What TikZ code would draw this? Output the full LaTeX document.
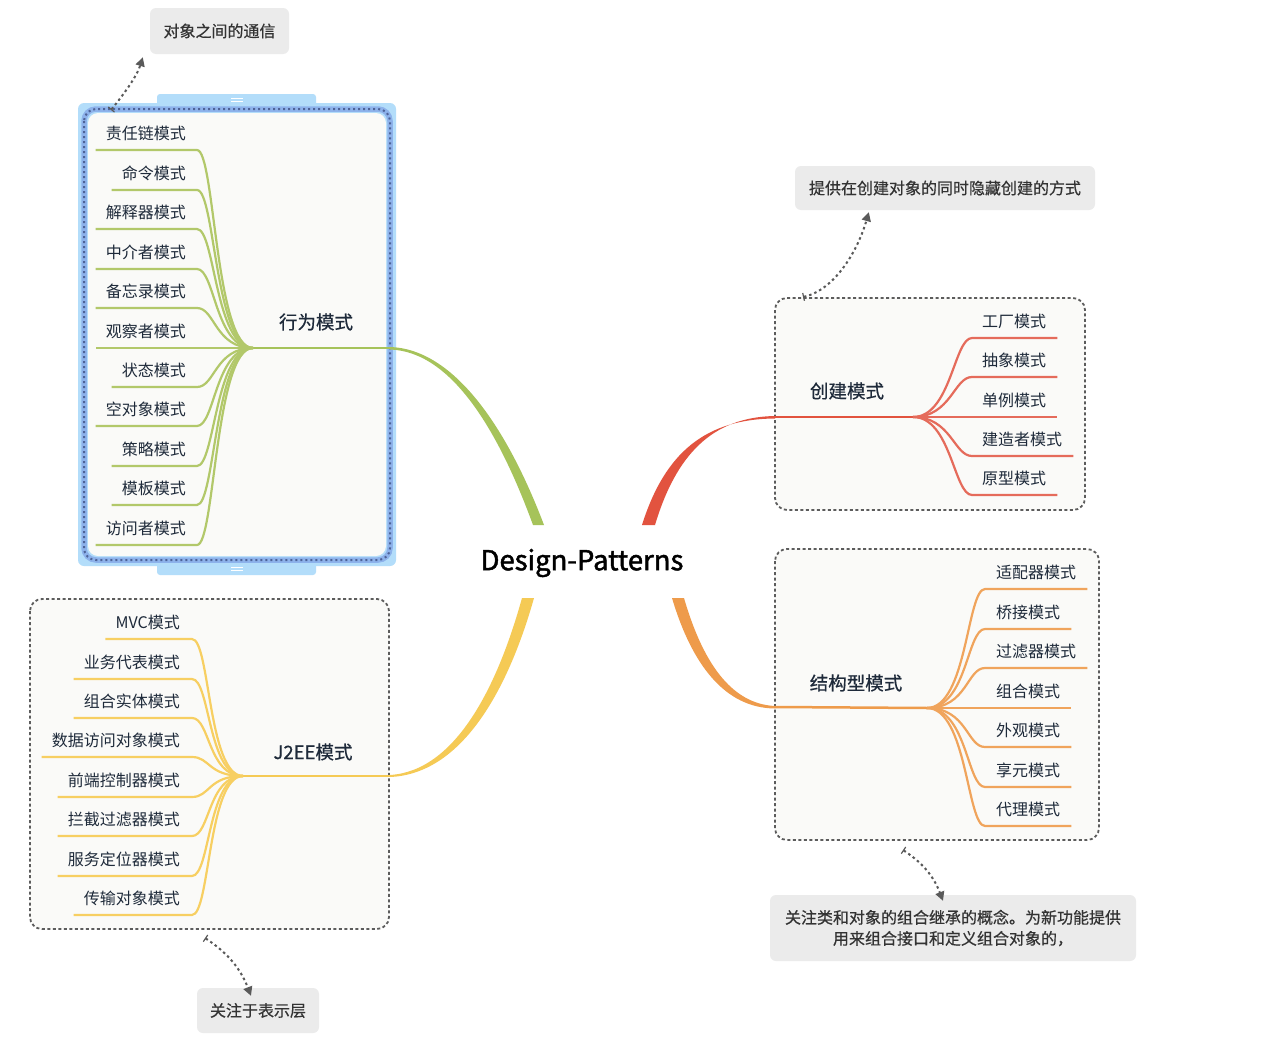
\documentclass[tikz,border=0pt]{standalone}
\usepackage{fontspec}
\setmainfont{Noto Sans CJK SC}
\newfontfamily\midfont{Noto Sans CJK SC}[FakeBold=0.6]
\newfontfamily\titlefont{Noto Sans CJK SC}[FakeBold=1.6]
\usepackage{xcolor}
\usetikzlibrary{arrows.meta,positioning}

\definecolor{ink}{HTML}{1E2A3A}
\definecolor{notebg}{HTML}{EBEBEB}
\definecolor{notetx}{HTML}{333333}
\definecolor{boxbg}{HTML}{FAFAF8}
\definecolor{boxline}{HTML}{5C5C5C}
\definecolor{relc}{HTML}{5A5A5A}
\definecolor{selA}{HTML}{B3DDFA}
\definecolor{selB}{HTML}{8DB2EB}
\definecolor{selC}{HTML}{4E6398}
\definecolor{gtrunk}{HTML}{A6C35A}
\definecolor{gleaf}{HTML}{B2C86A}
\definecolor{rtrunk}{HTML}{E2533F}
\definecolor{rleafc}{HTML}{E56B5B}
\definecolor{otrunk}{HTML}{EE9B4B}
\definecolor{oleaf}{HTML}{F0A45C}
\definecolor{ytrunk}{HTML}{F5CA55}
\definecolor{yleaf}{HTML}{F7CF62}

\begin{document}
\begin{tikzpicture}[x=1pt, y=-1pt,
  lleaf/.style={anchor=south east, inner xsep=0pt, inner ysep=10pt, text depth=0pt,
                font=\fontsize{16}{18}\selectfont, text=ink},
  rleaf/.style={lleaf, anchor=south west},
  branch/.style={font=\midfont\fontsize{18.5}{22}\selectfont, text=ink},
  note/.style={fill=notebg, rounded corners=6pt, text=notetx, inner sep=0pt,
               font=\midfont\fontsize{16}{21}\selectfont, align=center},
  group/.style={draw=boxline, fill=boxbg, line width=1.8pt,
                dash pattern=on 3pt off 2.5pt, rounded corners=12pt},
  rel/.style={draw=relc, line width=2pt, dash pattern=on 2.5pt off 3pt,
              {Bar[width=8pt,line width=1.2pt]}-{Triangle[length=9pt,width=9pt]}},
  gline/.style={draw=gleaf, line width=2.2pt},
  rline/.style={draw=rleafc, line width=2.2pt},
  oline/.style={draw=oleaf, line width=2.2pt},
  yline/.style={draw=yleaf, line width=2.2pt}
]
\useasboundingbox (0,0) rectangle (1270,1052);
\fill[white] (0,0) rectangle (1270,1052);

% selected group: behaviour
\fill[selA, rounded corners=3pt] (157,94) rectangle (316,110);
\fill[selA, rounded corners=3pt] (157,560) rectangle (316,575);
\draw[white, line width=1pt] (231,98) -- (243,98) (231,101) -- (243,101);
\draw[white, line width=1pt] (231,567) -- (243,567) (231,570) -- (243,570);
\fill[selA, rounded corners=6pt] (78,103) rectangle (396,566);
\draw[selB, line width=5.5pt, rounded corners=12pt] (84,109) rectangle (390,560);
\draw[selC, line width=2pt, dash pattern=on 2pt off 3pt, rounded corners=12pt] (84,109) rectangle (390,560);
\fill[boxbg, rounded corners=10pt] (88,113) rectangle (386,556);

% other groups
\path[group] (775,298) rectangle (1085,510);
\path[group] (775,549) rectangle (1099,840);
\path[group] (30,599) rectangle (389,929);

% trunks
\fill[gtrunk] (390,347) .. controls (455,349) and (508,430) .. (544,525)
  -- (533,525) .. controls (499,432) and (452,351.5) .. (390,349.5) -- cycle;
\fill[rtrunk] (775,416) .. controls (712,417) and (676,455) .. (655,525)
  -- (642,525) .. controls (665,452) and (706,419) .. (775,418.5) -- cycle;
\fill[ytrunk] (522,598) -- (534,598) .. controls (508,690) and (462,774) .. (390,777)
  -- (390,775) .. controls (455,771) and (497,688) .. (522,598) -- cycle;
\fill[otrunk] (672,598) -- (684,598) .. controls (702,660) and (730,704) .. (775,706)
  -- (775,708.5) .. controls (725,708) and (692,665) .. (672,598) -- cycle;

\node[font=\titlefont\fontsize{27.5}{32}\selectfont, text=black] (dp) at (582,563) {Design-Patterns};

% branches
\coordinate (jb) at (253,348);
\coordinate (jc) at (913,417);
\coordinate (js) at (927,708);
\coordinate (jj) at (243,776);
\coordinate (gE) at (390,348);
\coordinate (rW) at (775,417);
\coordinate (oW) at (775,707);
\coordinate (yE) at (390,776);
\draw[draw=gtrunk, line width=2.5pt] (jb) -- (gE);
\draw[draw=rtrunk, line width=2.5pt] (rW) -- (jc);
\draw[draw=otrunk, line width=2.5pt] (oW) -- (js);
\draw[draw=ytrunk, line width=2.5pt] (jj) -- (yE);

\node[branch] (lb) at (316,322) {行为模式};
\node[branch] (lc) at (847,391) {创建模式};
\node[branch] (ls) at (856,683) {结构型模式};
\node[branch] (lj) at (313,752) {J2EE模式};

% behaviour leaves
\node[lleaf] (b1) at (186,150) {责任链模式};
\node[lleaf] (b2) at (186,190) {命令模式};
\node[lleaf] (b3) at (186,229) {解释器模式};
\node[lleaf] (b4) at (186,269) {中介者模式};
\node[lleaf] (b5) at (186,308) {备忘录模式};
\node[lleaf] (b6) at (186,348) {观察者模式};
\node[lleaf] (b7) at (186,387) {状态模式};
\node[lleaf] (b8) at (186,426) {空对象模式};
\node[lleaf] (b9) at (186,466) {策略模式};
\node[lleaf] (b10) at (186,505) {模板模式};
\node[lleaf] (b11) at (186,545) {访问者模式};
\draw[gline] (jb) .. controls +(-38,0) and +(18,0) .. ([xshift=11pt]b1.south east) -- ([xshift=-10pt]b1.south west);
\draw[gline] (jb) .. controls +(-38,0) and +(18,0) .. ([xshift=11pt]b2.south east) -- ([xshift=-10pt]b2.south west);
\draw[gline] (jb) .. controls +(-38,0) and +(18,0) .. ([xshift=11pt]b3.south east) -- ([xshift=-10pt]b3.south west);
\draw[gline] (jb) .. controls +(-38,0) and +(18,0) .. ([xshift=11pt]b4.south east) -- ([xshift=-10pt]b4.south west);
\draw[gline] (jb) .. controls +(-38,0) and +(18,0) .. ([xshift=11pt]b5.south east) -- ([xshift=-10pt]b5.south west);
\draw[gline] (jb) -- ([xshift=-10pt]b6.south west);
\draw[gline] (jb) .. controls +(-38,0) and +(18,0) .. ([xshift=11pt]b7.south east) -- ([xshift=-10pt]b7.south west);
\draw[gline] (jb) .. controls +(-38,0) and +(18,0) .. ([xshift=11pt]b8.south east) -- ([xshift=-10pt]b8.south west);
\draw[gline] (jb) .. controls +(-38,0) and +(18,0) .. ([xshift=11pt]b9.south east) -- ([xshift=-10pt]b9.south west);
\draw[gline] (jb) .. controls +(-38,0) and +(18,0) .. ([xshift=11pt]b10.south east) -- ([xshift=-10pt]b10.south west);
\draw[gline] (jb) .. controls +(-38,0) and +(18,0) .. ([xshift=11pt]b11.south east) -- ([xshift=-10pt]b11.south west);

% creational leaves
\node[rleaf] (c1) at (982,338) {工厂模式};
\node[rleaf] (c2) at (982,377) {抽象模式};
\node[rleaf] (c3) at (982,417) {单例模式};
\node[rleaf] (c4) at (982,456) {建造者模式};
\node[rleaf] (c5) at (982,495) {原型模式};
\draw[rline] (jc) .. controls +(38,0) and +(-18,0) .. ([xshift=-10pt]c1.south west) -- ([xshift=11pt]c1.south east);
\draw[rline] (jc) .. controls +(38,0) and +(-18,0) .. ([xshift=-10pt]c2.south west) -- ([xshift=11pt]c2.south east);
\draw[rline] (jc) -- ([xshift=11pt]c3.south east);
\draw[rline] (jc) .. controls +(38,0) and +(-18,0) .. ([xshift=-10pt]c4.south west) -- ([xshift=11pt]c4.south east);
\draw[rline] (jc) .. controls +(38,0) and +(-18,0) .. ([xshift=-10pt]c5.south west) -- ([xshift=11pt]c5.south east);

% structural leaves
\node[rleaf] (s1) at (996,589) {适配器模式};
\node[rleaf] (s2) at (996,629) {桥接模式};
\node[rleaf] (s3) at (996,668) {过滤器模式};
\node[rleaf] (s4) at (996,708) {组合模式};
\node[rleaf] (s5) at (996,747) {外观模式};
\node[rleaf] (s6) at (996,787) {享元模式};
\node[rleaf] (s7) at (996,826) {代理模式};
\draw[oline] (js) .. controls +(40,0) and +(-18,0) .. ([xshift=-11pt]s1.south west) -- ([xshift=11pt]s1.south east);
\draw[oline] (js) .. controls +(40,0) and +(-18,0) .. ([xshift=-11pt]s2.south west) -- ([xshift=11pt]s2.south east);
\draw[oline] (js) .. controls +(40,0) and +(-18,0) .. ([xshift=-11pt]s3.south west) -- ([xshift=11pt]s3.south east);
\draw[oline] (js) -- ([xshift=11pt]s4.south east);
\draw[oline] (js) .. controls +(40,0) and +(-18,0) .. ([xshift=-11pt]s5.south west) -- ([xshift=11pt]s5.south east);
\draw[oline] (js) .. controls +(40,0) and +(-18,0) .. ([xshift=-11pt]s6.south west) -- ([xshift=11pt]s6.south east);
\draw[oline] (js) .. controls +(40,0) and +(-18,0) .. ([xshift=-11pt]s7.south west) -- ([xshift=11pt]s7.south east);

% J2EE leaves
\node[lleaf] (j1) at (180,639) {MVC模式};
\node[lleaf] (j2) at (180,679) {业务代表模式};
\node[lleaf] (j3) at (180,718) {组合实体模式};
\node[lleaf] (j4) at (180,757) {数据访问对象模式};
\node[lleaf] (j5) at (180,797) {前端控制器模式};
\node[lleaf] (j6) at (180,836) {拦截过滤器模式};
\node[lleaf] (j7) at (180,876) {服务定位器模式};
\node[lleaf] (j8) at (180,915) {传输对象模式};
\draw[yline] (jj) .. controls +(-35,0) and +(18,0) .. ([xshift=12pt]j1.south east) -- ([xshift=-10pt]j1.south west);
\draw[yline] (jj) .. controls +(-35,0) and +(18,0) .. ([xshift=12pt]j2.south east) -- ([xshift=-10pt]j2.south west);
\draw[yline] (jj) .. controls +(-35,0) and +(18,0) .. ([xshift=12pt]j3.south east) -- ([xshift=-10pt]j3.south west);
\draw[yline] (jj) .. controls +(-35,0) and +(18,0) .. ([xshift=12pt]j4.south east) -- ([xshift=-10pt]j4.south west);
\draw[yline] (jj) .. controls +(-35,0) and +(18,0) .. ([xshift=12pt]j5.south east) -- ([xshift=-10pt]j5.south west);
\draw[yline] (jj) .. controls +(-35,0) and +(18,0) .. ([xshift=12pt]j6.south east) -- ([xshift=-10pt]j6.south west);
\draw[yline] (jj) .. controls +(-35,0) and +(18,0) .. ([xshift=12pt]j7.south east) -- ([xshift=-10pt]j7.south west);
\draw[yline] (jj) .. controls +(-35,0) and +(18,0) .. ([xshift=12pt]j8.south east) -- ([xshift=-10pt]j8.south west);

% callouts
\node[note, minimum width=139pt, minimum height=46pt] (nComm) at (219.5,31) {对象之间的通信};
\node[note, minimum width=300pt, minimum height=44pt] (nCreate) at (945,188) {提供在创建对象的同时隐藏创建的方式};
\node[note, minimum width=366pt, minimum height=66pt] (nStruct) at (953,928)
  {关注类和对象的组合继承的概念。为新功能提供\\用来组合接口和定义组合对象的，};
\node[note, minimum width=122pt, minimum height=45pt] (nView) at (258,1010.5) {关注于表示层};

\coordinate (aComm) at (111,110);
\coordinate (aCreate) at (803,297);
\coordinate (aStruct) at (903,850);
\coordinate (aView) at (205,938);
\draw[rel] (aComm) .. controls (124,94) and (137,76) .. ([xshift=-7pt,yshift=-3pt]nComm.south west);
\draw[rel] (aCreate) .. controls (835,290) and (858,250) .. ([xshift=74pt,yshift=-2pt]nCreate.south west);
\draw[rel] (aStruct) .. controls (918,860) and (932,872) .. ([xshift=-10pt,yshift=-6pt]nStruct.north);
\draw[rel] (aView) .. controls (220,948) and (238,962) .. ([xshift=-7pt,yshift=-8pt]nView.north);
\end{tikzpicture}
\end{document}
